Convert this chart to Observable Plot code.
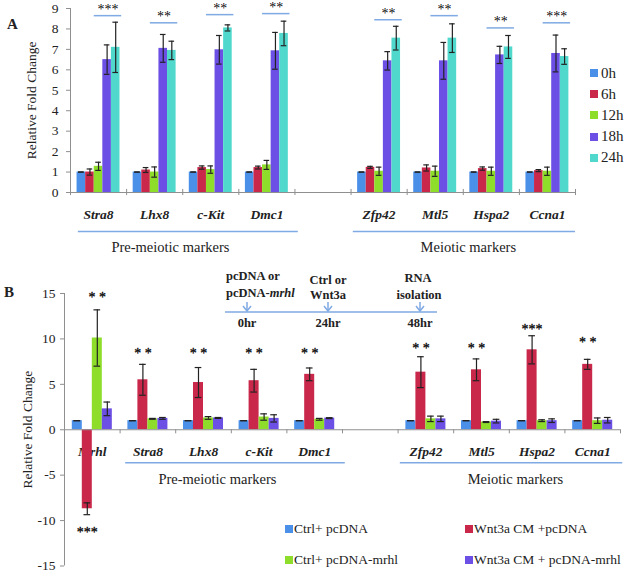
<!DOCTYPE html>
<html>
<head>
<meta charset="utf-8">
<script src="https://cdn.jsdelivr.net/npm/d3@7"></script>
<script src="https://cdn.jsdelivr.net/npm/@observablehq/plot@0.6"></script>
<style>
  html, body { margin: 0; padding: 0; background: #fff; }
  #wrap { position: relative; width: 630px; height: 572px; overflow: hidden; font-family: "Liberation Serif", "Times New Roman", serif; color: #222; }
  .abs { position: absolute; white-space: nowrap; }
  .panel { position: absolute; left: 0; }
  .sw { position: absolute; width: 8px; height: 8px; }
  .lg { position: absolute; font-size: 13.5px; line-height: 14px; white-space: nowrap; }
</style>
</head>
<body>
<div id="wrap"></div>
<script>
// ---------------- Panel A data ----------------
const seriesA = ["0h", "6h", "12h", "18h", "24h"];
const colorsA = ["#4a8fe8", "#c9284b", "#8fdd2b", "#6c4fe4", "#50d8cc"];
const genesA = ["Stra8", "Lhx8", "c-Kit", "Dmc1", "Zfp42", "Mtl5", "Hspa2", "Ccna1"];
const h0  = [1, 1, 1, 1, 1, 1, 1, 1];
const h6  = [1.0, 1.1, 1.22, 1.22, 1.23, 1.2, 1.17, 1.07];
const h12 = [1.28, 1.0, 1.12, 1.35, 1.04, 1.04, 1.04, 1.04];
const h18 = [6.5, 7.05, 6.98, 6.93, 6.44, 6.44, 6.73, 6.8];
const h24 = [7.1, 6.95, 8.05, 7.78, 7.55, 7.55, 7.12, 6.65];
const e0  = [0, 0, 0, 0, 0, 0, 0, 0];
const e6  = [0.15, 0.12, 0.08, 0.07, 0.05, 0.15, 0.08, 0.05];
const e12 = [0.2, 0.25, 0.18, 0.22, 0.2, 0.25, 0.2, 0.2];
const e18 = [0.72, 0.68, 0.7, 0.9, 0.45, 0.9, 0.42, 0.9];
const e24 = [1.23, 0.45, 0.15, 0.6, 0.58, 0.7, 0.56, 0.38];
const sigTextA = ["***", "**", "**", "**", "**", "**", "**", "***"];
const sigLevelA = [8.65, 8.3, 8.7, 8.75, 8.45, 8.65, 8.05, 8.3];
const groupLabelsA = ["Pre-meiotic markers", "Meiotic markers"];

// ---------------- Panel B data ----------------
const seriesB = ["Ctrl+ pcDNA", "Wnt3a CM +pcDNA", "Ctrl+ pcDNA-mrhl", "Wnt3a CM + pcDNA-mrhl"];
const colorsB = ["#4a8fe8", "#c9284b", "#8fdd2b", "#6c4fe4"];
const genesB = ["Mrhl", "Stra8", "Lhx8", "c-Kit", "Dmc1", "Zfp42", "Mtl5", "Hspa2", "Ccna1"];
const ctrlPc   = [1, 1, 1, 1, 1, 1, 1, 1, 1];
const wntPc    = [-8.7, 5.5, 5.2, 5.4, 6.1, 6.34, 6.6, 8.8, 7.2];
const ctrlMrhl = [10.1, 1.2, 1.3, 1.4, 1.15, 1.2, 0.85, 1.0, 1.0];
const wntMrhl  = [2.3, 1.25, 1.3, 1.25, 1.28, 1.2, 0.95, 1.0, 1.05];
const eCtrlPc   = [0, 0, 0, 0, 0, 0, 0, 0, 0];
const eWntPc    = [0.65, 1.7, 1.65, 1.25, 0.7, 1.7, 1.2, 1.55, 0.55];
const eCtrlMrhl = [3.1, 0.05, 0.15, 0.35, 0.1, 0.3, 0.05, 0.1, 0.3];
const eWntMrhl  = [0.75, 0.1, 0.05, 0.4, 0.05, 0.3, 0.2, 0.2, 0.3];
const sigGeneB  = ["Mrhl", "Mrhl", "Stra8", "Lhx8", "c-Kit", "Dmc1", "Zfp42", "Mtl5", "Hspa2", "Ccna1"];
const sigBarB   = [2, 1, 1, 1, 1, 1, 1, 1, 1, 1];
const sigTextB  = ["* *", "***", "* *", "* *", "* *", "* *", "* *", "* *", "***", "* *"];
const sigLevelB = [14.65, -11.2, 8.46, 8.46, 8.46, 8.46, 9.1, 9.1, 11.1, 9.7];
const groupLabelsB = ["Pre-meiotic markers", "Meiotic markers"];

const FONT = '"Liberation Serif", "Times New Roman", serif';
const AXIS = "#8f8f8f";
const LINE = "#7faae3";
const wrap = document.getElementById("wrap");

// ---------- build panel A ----------
const slotA = i => (i < 4 ? i : i + 1);
const padA = 0.117, wA = 0.153;
const valsA = [h0, h6, h12, h18, h24], errsA = [e0, e6, e12, e18, e24];
const dataA = genesA.flatMap((g, i) => seriesA.map((s, j) => {
  const x1 = slotA(i) + padA + j * wA;
  return {gene: g, series: s, x1, x2: x1 + wA, xc: x1 + wA / 2, v: valsA[j][i], e: errsA[j][i]};
}));
const genesAData = genesA.map((g, i) => ({gene: g, x: slotA(i) + 0.5}));
const sigA = genesA.map((g, i) => ({
  x1: slotA(i) + padA + 2 * wA, x2: slotA(i) + padA + 5 * wA + 0.03,
  xc: slotA(i) + padA + 3.5 * wA + 0.015, y: sigLevelA[i], t: sigTextA[i]
}));
const groupLinesA = [{x1: 0.14, x2: 4.06}, {x1: 5.04, x2: 9.0}];
const groupTextA = [{x: 1.78, t: groupLabelsA[0]}, {x: 7.09, t: groupLabelsA[1]}];

const plotA = Plot.plot({
  width: 630, height: 262,
  marginLeft: 70, marginRight: 55, marginTop: 8, marginBottom: 70,
  style: {fontFamily: FONT, fontSize: "13px", background: "transparent", color: "#222", overflow: "visible"},
  x: {domain: [0, 9], axis: null},
  y: {domain: [0, 9]},
  color: {domain: seriesA, range: colorsA},
  marks: [
    Plot.ruleX([0], {stroke: AXIS}),
    Plot.axisY({ticks: d3.range(0, 10), tickFormat: d => String(d), tickSize: 4, tickPadding: 8, stroke: AXIS, fontSize: 13.5, label: "Relative Fold Change", labelAnchor: "center", labelOffset: 44, labelArrow: "none"}),
    Plot.rectY(dataA, {x1: "x1", x2: "x2", y: "v", fill: "series"}),
    Plot.ruleX(dataA, {x: "xc", y1: d => d.v - d.e, y2: d => d.v + d.e, stroke: "#222", strokeWidth: 1.2}),
    Plot.ruleY(dataA, {x1: d => d.xc - 0.05, x2: d => d.xc + 0.05, y: d => d.v + d.e, stroke: "#222", strokeWidth: 1.2}),
    Plot.ruleY(dataA, {x1: d => d.xc - 0.05, x2: d => d.xc + 0.05, y: d => d.v - d.e, stroke: "#222", strokeWidth: 1.2}),
    Plot.ruleY([0], {stroke: AXIS}),
    Plot.ruleX(d3.range(0, 10), {x: d => d, y1: -0.15, y2: 0.15, stroke: AXIS}),
    Plot.ruleY(sigA, {x1: "x1", x2: "x2", y: "y", stroke: LINE, strokeWidth: 1.5}),
    Plot.text(sigA, {x: "xc", y: "y", text: "t", dy: -6, fontSize: 14, fill: "#000", fillOpacity: 0.99}),
    Plot.text(genesAData, {x: "x", y: () => 0, text: "gene", dy: 22, fontSize: 13.5, fontStyle: "italic", fontWeight: "bold", fill: "#222"}),
    Plot.ruleY(groupLinesA, {x1: "x1", x2: "x2", y: () => 0, dy: 39, stroke: LINE, strokeWidth: 1.5}),
    Plot.text(groupTextA, {x: "x", y: () => 0, text: "t", dy: 55, fontSize: 14.5, fill: "#222"})
  ]
});
plotA.classList.add("panel");
plotA.style.top = "0px";
wrap.appendChild(plotA);

// ---------- build panel B ----------
const TOPB = 265;
const slotB = i => (i < 5 ? i : i + 1);
const padB = 0.14, wB = 0.18;
const valsB = [ctrlPc, wntPc, ctrlMrhl, wntMrhl], errsB = [eCtrlPc, eWntPc, eCtrlMrhl, eWntMrhl];
const dataB = genesB.flatMap((g, i) => seriesB.map((s, j) => {
  const x1 = slotB(i) + padB + j * wB;
  return {gene: g, series: s, x1, x2: x1 + wB, xc: x1 + wB / 2, v: valsB[j][i], e: errsB[j][i]};
}));
const genesBData = genesB.map((g, i) => ({gene: g, x: slotB(i) + 0.5}));
const sigB = sigGeneB.map((g, k) => {
  const i = genesB.indexOf(g);
  return {x: slotB(i) + padB + (sigBarB[k] + 0.5) * wB, y: sigLevelB[k], t: sigTextB[k]};
});
const groupLinesB = [{x1: 1.1, x2: 5.05}, {x1: 6.04, x2: 10.04}];
const groupTextB = [{x: 2.75, t: groupLabelsB[0]}, {x: 8.11, t: groupLabelsB[1]}];

const plotB = Plot.plot({
  width: 630, height: 572 - TOPB,
  marginLeft: 64, marginRight: 10, marginTop: 293 - TOPB, marginBottom: 6.5,
  style: {fontFamily: FONT, fontSize: "13px", background: "transparent", color: "#222", overflow: "visible"},
  x: {domain: [0, 10], axis: null},
  y: {domain: [-15, 15]},
  color: {domain: seriesB, range: colorsB},
  marks: [
    Plot.ruleX([0], {stroke: AXIS}),
    Plot.axisY({ticks: d3.range(-15, 16, 5), tickFormat: d => String(d), tickSize: 4, tickPadding: 5, stroke: AXIS, fontSize: 13.5, label: "Relative Fold Change", labelAnchor: "center", labelOffset: 42, labelArrow: "none"}),
    Plot.text(genesBData, {x: "x", y: () => 0, text: "gene", dy: 22, fontSize: 13.5, fontStyle: "italic", fontWeight: "bold", fill: "#222"}),
    Plot.rectY(dataB, {x1: "x1", x2: "x2", y: "v", fill: "series"}),
    Plot.ruleX(dataB, {x: "xc", y1: d => d.v - d.e, y2: d => d.v + d.e, stroke: "#222", strokeWidth: 1.2}),
    Plot.ruleY(dataB, {x1: d => d.xc - 0.06, x2: d => d.xc + 0.06, y: d => d.v + d.e, stroke: "#222", strokeWidth: 1.2}),
    Plot.ruleY(dataB, {x1: d => d.xc - 0.06, x2: d => d.xc + 0.06, y: d => d.v - d.e, stroke: "#222", strokeWidth: 1.2}),
    Plot.ruleY([0], {stroke: AXIS}),
    Plot.ruleX(d3.range(0, 11), {x: d => d, y1: 0, y2: -0.45, stroke: AXIS}),
    Plot.text(sigB, {x: "x", y: "y", text: "t", dy: 1, fontSize: 14, fill: "#000", fillOpacity: 0.99, stroke: "#000", strokeWidth: 0.3}),
    Plot.ruleY(groupLinesB, {x1: "x1", x2: "x2", y: () => 0, dy: 33, stroke: LINE, strokeWidth: 1.5}),
    Plot.text(groupTextB, {x: "x", y: () => 0, text: "t", dy: 50, fontSize: 14.5, fill: "#222"})
  ]
});
plotB.classList.add("panel");
plotB.style.top = TOPB + "px";
wrap.appendChild(plotB);

// ---------- panel letters ----------
function addText(txt, left, top, css) {
  const d = document.createElement("div");
  d.className = "abs";
  d.textContent = txt;
  d.style.left = left + "px";
  d.style.top = top + "px";
  Object.assign(d.style, css || {});
  wrap.appendChild(d);
  return d;
}
addText("A", 7, 16, {fontWeight: "bold", fontSize: "15px"});
addText("B", 4, 284, {fontWeight: "bold", fontSize: "15px"});

// ---------- legend A ----------
seriesA.forEach((s, j) => {
  const cy = 73 + j * 21.2;
  const sw = document.createElement("div");
  sw.className = "sw";
  sw.style.left = "590px"; sw.style.top = (cy - 4) + "px"; sw.style.background = colorsA[j];
  wrap.appendChild(sw);
  const t = document.createElement("div");
  t.className = "lg"; t.textContent = s;
  t.style.left = "601px"; t.style.top = (cy - 7.5) + "px"; t.style.fontSize = "15px";
  wrap.appendChild(t);
});

// ---------- legend B ----------
const legPos = [[285, 529], [465, 529], [285, 560], [465, 560]];
seriesB.forEach((s, j) => {
  const [lx, cy] = legPos[j];
  const sw = document.createElement("div");
  sw.className = "sw";
  sw.style.left = lx + "px"; sw.style.top = (cy - 4) + "px"; sw.style.background = colorsB[j];
  wrap.appendChild(sw);
  const t = document.createElement("div");
  t.className = "lg"; t.textContent = s;
  t.style.left = (lx + 9) + "px"; t.style.top = (cy - 7.5) + "px";
  wrap.appendChild(t);
});

// ---------- timeline inset ----------
const ns = "http://www.w3.org/2000/svg";
const tl = document.createElementNS(ns, "svg");
tl.setAttribute("width", 630); tl.setAttribute("height", 572);
tl.style.position = "absolute"; tl.style.left = "0"; tl.style.top = "0"; tl.style.pointerEvents = "none";
tl.innerHTML = `
<g stroke="${LINE}" stroke-width="1.5" fill="none">
  <line x1="225" y1="312" x2="437" y2="312"/>
  <line x1="247" y1="302" x2="247" y2="311"/><polyline points="243,306 247,311 251,306"/>
  <line x1="328" y1="302" x2="328" y2="311"/><polyline points="324,306 328,311 332,306"/>
  <line x1="420" y1="302" x2="420" y2="311"/><polyline points="416,306 420,311 424,306"/>
</g>
<g font-family='${FONT}' font-weight="bold" font-size="12.5" fill="#222">
  <text x="226" y="280">pcDNA or</text>
  <text x="226" y="297">pcDNA-<tspan font-style="italic">mrhl</tspan></text>
  <text x="328" y="284" text-anchor="middle">Ctrl or</text>
  <text x="328" y="299" text-anchor="middle">Wnt3a</text>
  <text x="418" y="282" text-anchor="middle">RNA</text>
  <text x="419" y="299" text-anchor="middle">isolation</text>
  <text x="247" y="327" text-anchor="middle">0hr</text>
  <text x="328" y="327" text-anchor="middle">24hr</text>
  <text x="420" y="327" text-anchor="middle">48hr</text>
</g>`;
wrap.appendChild(tl);
</script>
</body>
</html>
